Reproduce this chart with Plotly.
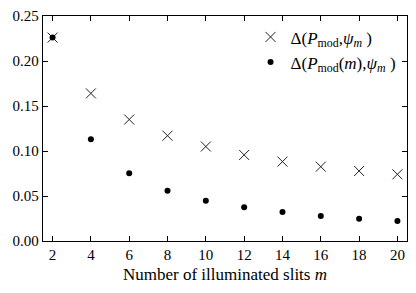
import plotly.graph_objects as go

m_values = [2, 4, 6, 8, 10, 12, 14, 16, 18, 20]
delta_pmod = [0.226, 0.164, 0.135, 0.117, 0.105, 0.0956, 0.0882, 0.0826, 0.0778, 0.0741]
delta_pmod_m = [0.226, 0.113, 0.0752, 0.0559, 0.0448, 0.0374, 0.0322, 0.0278, 0.0248, 0.0222]
x_ticks = [2, 4, 6, 8, 10, 12, 14, 16, 18, 20]
y_ticks = [0.00, 0.05, 0.10, 0.15, 0.20, 0.25]

FONT = "Liberation Serif, DejaVu Serif, serif"

fig = go.Figure()
fig.add_trace(go.Scatter(
    x=m_values, y=delta_pmod, mode="markers",
    name="Δ(<i>P</i><sub>mod</sub>,<i>ψ</i><sub><i>m</i></sub> )",
    marker=dict(symbol="x-thin-open", size=10, color="#222",
                line=dict(width=1, color="#222")),
))
fig.add_trace(go.Scatter(
    x=m_values, y=delta_pmod_m, mode="markers",
    name="Δ(<i>P</i><sub>mod</sub>(<i>m</i>),<i>ψ</i><sub><i>m</i></sub> )",
    marker=dict(symbol="circle", size=6, color="black"),
))

axis_common = dict(
    showline=True, linecolor="black", linewidth=1.3, mirror="ticks",
    ticks="inside", ticklen=5, tickwidth=1, tickcolor="black",
    showgrid=False, zeroline=False,
    tickfont=dict(family=FONT, size=15, color="black"),
)
fig.update_xaxes(range=[1.5, 20.5], tickvals=x_ticks, **axis_common,
                 title=dict(text="Number of illuminated slits <i>m</i>",
                            font=dict(family=FONT, size=17, color="black"),
                            standoff=5))
fig.update_yaxes(range=[0, 0.25], tickvals=y_ticks, tickformat=".2f", **axis_common)

fig.update_layout(
    width=416, height=293,
    margin=dict(l=43, r=9, t=16, b=52),
    plot_bgcolor="white", paper_bgcolor="white",
    font=dict(family=FONT, size=15, color="black"),
    legend=dict(x=0.985, y=0.985, xanchor="right", yanchor="top",
                bgcolor="rgba(0,0,0,0)", font=dict(family=FONT, size=17),
                itemwidth=30, tracegroupgap=0),
)
fig.write_html("out.html", config={"displayModeBar": False},
               post_script="document.body.style.margin='0';document.body.style.padding='0';")
